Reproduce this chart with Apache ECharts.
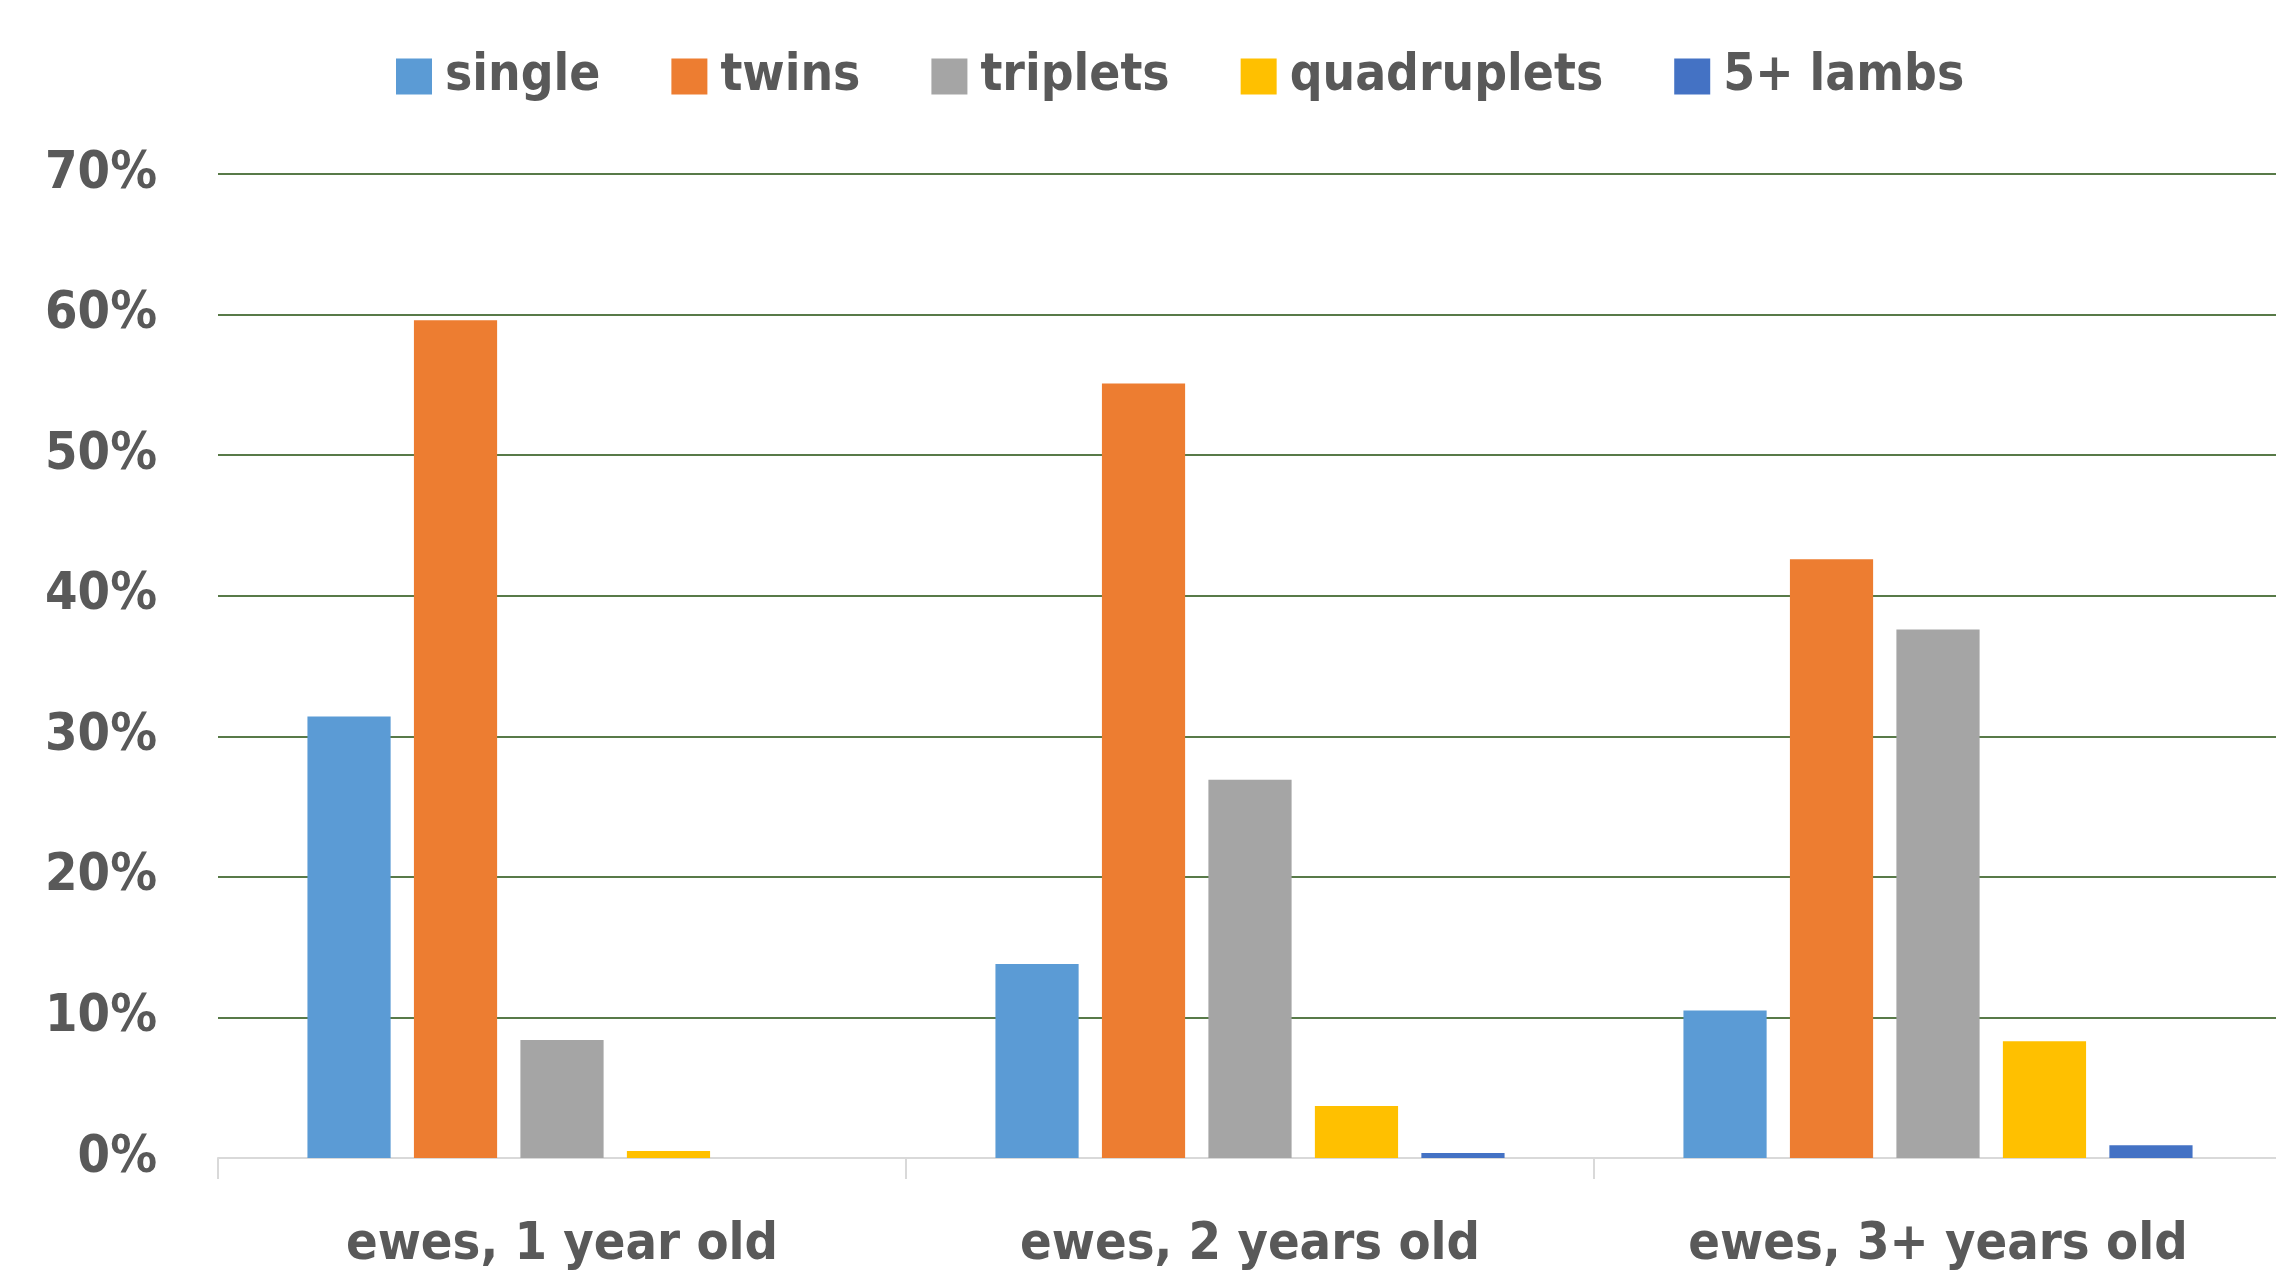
<!DOCTYPE html>
<html>
<head>
<meta charset="utf-8">
<script src="https://cdn.jsdelivr.net/npm/echarts@6/dist/echarts.min.js"></script>
<style>
html,body{margin:0;padding:0;background:#fff;}
#c{width:2276px;height:1270px;}
</style>
</head>
<body>
<div id="c"></div>
<script>
const categories = ['ewes, 1 year old', 'ewes, 2 years old', 'ewes, 3+ years old'];
const seriesNames = ['single', 'twins', 'triplets', 'quadruplets', '5+ lambs'];
const single = [31.4, 13.8, 10.5];
const twins = [59.6, 55.1, 42.6];
const triplets = [8.4, 26.9, 37.6];
const quadruplets = [0.5, 3.7, 8.3];
const lambs5plus = [0, 0.35, 0.9];
const yTicks = [0, 10, 20, 30, 40, 50, 60, 70];
const colors = ['#5B9BD5', '#ED7D31', '#A5A5A5', '#FFC000', '#4472C4'];

const FONT = "'DejaVu Sans Condensed', 'Liberation Sans Narrow', sans-serif";
const values = [single, twins, triplets, quadruplets, lambs5plus];

const chart = echarts.init(document.getElementById('c'));
chart.setOption({
  animation: false,
  color: colors,
  textStyle: { fontFamily: FONT },
  legend: {
    top: 46,
    left: 391,
    itemWidth: 36,
    itemHeight: 36,
    itemGap: 71,
    icon: 'rect',
    textStyle: { fontFamily: FONT, fontWeight: 'bold', fontSize: 51, color: '#595959', padding: [0, 0, 0, 8] },
    data: seriesNames
  },
  grid: { left: 218, width: 2064, top: 174, bottom: 1270 - 1158, containLabel: false, outerBoundsMode: 'none' },
  xAxis: {
    type: 'category',
    data: categories,
    axisLine: { lineStyle: { color: '#d9d9d9', width: 2 } },
    axisTick: { show: true, length: 21, lineStyle: { color: '#d9d9d9', width: 2 } },
    axisLabel: { interval: 0, margin: 61, fontFamily: FONT, fontWeight: 'bold', fontSize: 52, color: '#595959' },
    splitLine: { show: false }
  },
  yAxis: {
    type: 'value',
    min: yTicks[0],
    max: yTicks[yTicks.length - 1],
    interval: 10,
    axisLine: { show: false },
    axisTick: { show: false },
    axisLabel: { margin: 61, fontFamily: FONT, fontWeight: 'bold', fontSize: 52, color: '#595959', formatter: v => v + '%' },
    splitLine: { lineStyle: { color: '#587a48', width: 2 } }
  },
  series: seriesNames.map((n, i) => ({
    name: n,
    type: 'bar',
    data: values[i],
    barGap: '28%',
    barCategoryGap: '26%',
    itemStyle: { color: colors[i] }
  }))
});
</script>
</body>
</html>
